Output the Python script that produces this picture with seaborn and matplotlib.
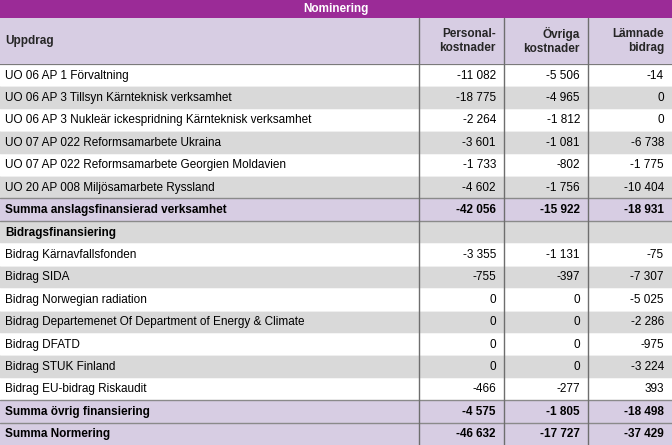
import numpy as np
import pandas as pd
import matplotlib
matplotlib.use("Agg")
import matplotlib.pyplot as plt
from matplotlib.colors import ListedColormap
import seaborn as sns

sns.set_theme(style="white")
plt.rcParams['font.family'] = ['Liberation Sans', 'DejaVu Sans']

title = "Nominering"
col_headers = ["Uppdrag", "Personal-\nkostnader", "Övriga\nkostnader", "Lämnade\nbidrag"]
row_labels = [
    "UO 06 AP 1 Förvaltning",
    "UO 06 AP 3 Tillsyn Kärnteknisk verksamhet",
    "UO 06 AP 3 Nukleär ickespridning Kärnteknisk verksamhet",
    "UO 07 AP 022 Reformsamarbete Ukraina",
    "UO 07 AP 022 Reformsamarbete Georgien Moldavien",
    "UO 20 AP 008 Miljösamarbete Ryssland",
    "Summa anslagsfinansierad verksamhet",
    "Bidragsfinansiering",
    "Bidrag Kärnavfallsfonden",
    "Bidrag SIDA",
    "Bidrag Norwegian radiation",
    "Bidrag Departemenet Of Department of Energy & Climate",
    "Bidrag DFATD",
    "Bidrag STUK Finland",
    "Bidrag EU-bidrag Riskaudit",
    "Summa övrig finansiering",
    "Summa Normering",
]
personal = ["-11 082", "-18 775", "-2 264", "-3 601", "-1 733", "-4 602", "-42 056", "",
            "-3 355", "-755", "0", "0", "0", "0", "-466", "-4 575", "-46 632"]
ovriga = ["-5 506", "-4 965", "-1 812", "-1 081", "-802", "-1 756", "-15 922", "",
          "-1 131", "-397", "0", "0", "0", "0", "-277", "-1 805", "-17 727"]
lamnade = ["-14", "0", "0", "-6 738", "-1 775", "-10 404", "-18 931", "",
           "-75", "-7 307", "-5 025", "-2 286", "-975", "-3 224", "393", "-18 498", "-37 429"]
# row kind: 0 = white, 1 = grey, 2 = summary (lavender, bold), 3 = section (grey, bold)
row_kind = [0, 1, 0, 1, 0, 1, 2, 3, 0, 1, 0, 1, 0, 1, 0, 2, 2]

W, H = 672, 445
title_h = 18
header_h = 46
body_top = title_h + header_h
col_edges = [0, 419, 504, 588, 672]
FS = 8.5

PURPLE = "#9B2B97"
LAV = "#D7CDE3"
GREY = "#D9D9D9"
WHITE = "#FFFFFF"
LINE = "#6E6E6E"

fig = plt.figure(figsize=(W / 100, H / 100), dpi=100)

# Body: background colors via seaborn heatmap
body_h = H - body_top
ax = fig.add_axes([0, 0, 1, body_h / H])
kind_df = pd.DataFrame({"kind": row_kind}, index=row_labels)
cmap = ListedColormap([WHITE, GREY, LAV, GREY])
sns.heatmap(kind_df, ax=ax, cmap=cmap, vmin=-0.5, vmax=3.5, cbar=False,
            xticklabels=False, yticklabels=False, linewidths=0)
ax.set_xlim(0, 1)
ax.set_ylim(len(row_labels), 0)
ax.set_axis_off()

n = len(row_labels)
fx = [e / W for e in col_edges]
pad = 8 / W
for i, lab in enumerate(row_labels):
    bold = row_kind[i] in (2, 3)
    fw = "bold" if bold else "normal"
    y = i + 0.52
    ax.text(5 / W, y, lab, ha="left", va="center", fontsize=FS, fontweight=fw, color="#000000")
    for j, vals in enumerate([personal, ovriga, lamnade]):
        ax.text(fx[j + 2] - pad, y, vals[i], ha="right", va="center", fontsize=FS,
                fontweight=fw, color="#000000")
# horizontal separators
for i in range(1, n):
    if row_kind[i] == 2 or row_kind[i - 1] == 2:
        ax.axhline(i, color="#8A8A8A", lw=1.0)
    else:
        ax.axhline(i, color="#F4F4F4", lw=0.6)
ax.axhline(0, color="#7A7A7A", lw=1.6)
for e in fx[1:4]:
    ax.axvline(e, color=LINE, lw=1.0)

# Title + header
axh = fig.add_axes([0, body_h / H, 1, header_h / H + title_h / H])
axh.set_xlim(0, W)
axh.set_ylim(body_top, 0)
axh.set_axis_off()
axh.axhspan(0, title_h, color=PURPLE, lw=0)
axh.axhspan(title_h, body_top, color=LAV, lw=0)
axh.text(W / 2, title_h / 2, title, ha="center", va="center", color="white",
         fontsize=FS, fontweight="bold")
hy = title_h + header_h / 2
axh.text(5, hy, col_headers[0], ha="left", va="center", fontsize=FS, fontweight="bold")
for j in range(1, 4):
    axh.text(col_edges[j + 1] - 8, hy, col_headers[j], ha="right", va="center",
             fontsize=FS, fontweight="bold", linespacing=1.15)
for e in col_edges[1:4]:
    axh.plot([e, e], [title_h, body_top], color=LINE, lw=1.0)

fig.savefig("out.png", dpi=100)
